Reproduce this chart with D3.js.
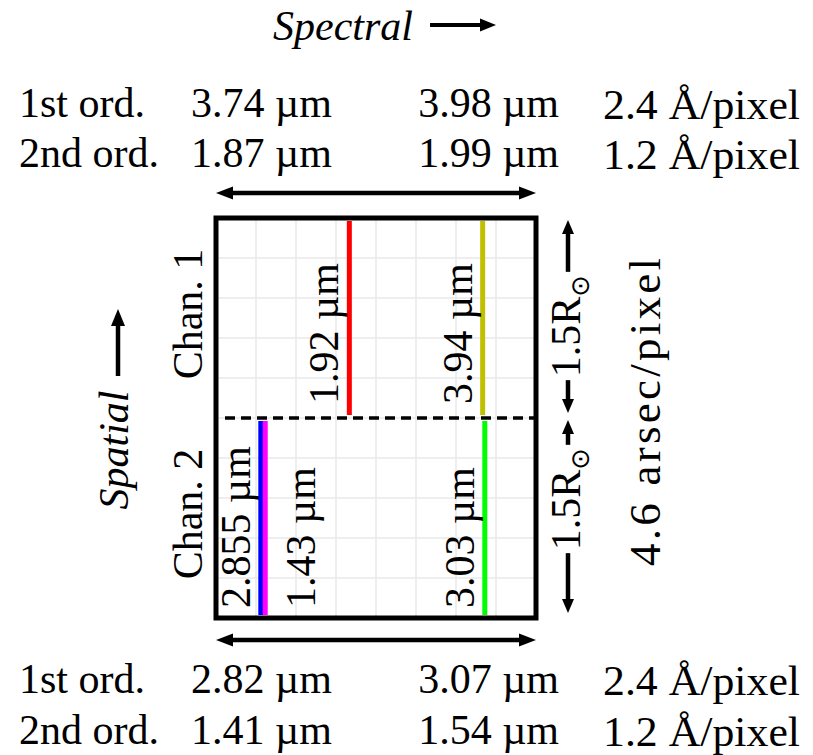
<!DOCTYPE html>
<html>
<head>
<meta charset="utf-8">
<script src="https://cdn.jsdelivr.net/npm/d3@7"></script>
<style>
  body { margin: 0; background: #fff; }
  svg { display: block; }
  text { font-family: "Liberation Serif", serif; fill: #000; }
</style>
</head>
<body>
<svg id="viz" width="813" height="755"></svg>
<script>
// spectral coverage of each channel, per grating order (µm)
const orders = ["1st ord.", "2nd ord."];
const chan1Range = [[3.74, 3.98], [1.87, 1.99]];
const chan2Range = [[2.82, 3.07], [1.41, 1.54]];
const dispersion = ["2.4 Å/pixel", "1.2 Å/pixel"];

// spatial extent along the slit (solar radii)
const chanNames = ["Chan. 1", "Chan. 2"];
const chanSpan = [[1.5, 3], [0, 1.5]];
const chanSize = ["1.5", "1.5"];
const plateScale = "4.6 arsec/pixel";

// emission lines
const lineWave = [1.92, 3.94, 2.855, 1.43, 3.03];
const lineOrder = [2, 1, 1, 2, 1];
const lineChan = [1, 1, 2, 2, 2];
const lineSide = ["left", "left", "left", "right", "left"];
const lineColor = ["#ff0000", "#c0c000", "#0000ff", "#ff00ff", "#00ff00"];

const svg = d3.select("#viz");
const x0 = 216, x1 = 536, y0 = 218, y1 = 618;
const fs = 42;

const yScale = d3.scaleLinear().domain([0, 3]).range([y1, y0]);
const xScales = {
  1: chan1Range.map(r => d3.scaleLinear().domain(r).range([x0, x1])),
  2: chan2Range.map(r => d3.scaleLinear().domain(r).range([x0, x1]))
};

function head(g, x, y, ux, uy, hl, hw) {
  const bx = x - ux * hl, by = y - uy * hl, px = -uy, py = ux;
  g.append("path")
    .attr("d", `M${x},${y}L${bx + px * hw / 2},${by + py * hw / 2}L${bx - px * hw / 2},${by - py * hw / 2}Z`)
    .attr("fill", "#000");
}
function arrow(xa, ya, xb, yb, both, w, hl, hw) {
  const g = svg.append("g");
  const dx = xb - xa, dy = yb - ya, L = Math.hypot(dx, dy), ux = dx / L, uy = dy / L;
  const s = both ? hl * 0.7 : 0;
  g.append("line")
    .attr("x1", xa + ux * s).attr("y1", ya + uy * s)
    .attr("x2", xb - ux * hl * 0.7).attr("y2", yb - uy * hl * 0.7)
    .attr("stroke", "#000").attr("stroke-width", w);
  head(g, xb, yb, ux, uy, hl, hw);
  if (both) head(g, xa, ya, -ux, -uy, hl, hw);
}

// title
svg.append("text").attr("x", 273).attr("y", 40)
  .attr("font-size", fs).attr("font-style", "italic").text("Spectral");
arrow(430, 25, 496, 25, false, 4, 16, 13);

// wavelength rows, channel 1 on top, channel 2 below
const topBase = [117, 167], botBase = [693, 744];
function rows(ranges, bases) {
  orders.forEach((o, i) => {
    svg.append("text").attr("x", 19).attr("y", bases[i]).attr("font-size", fs).text(o);
    svg.append("text").attr("x", x0 - 25).attr("y", bases[i]).attr("font-size", fs)
      .text(ranges[i][0] + " µm");
    svg.append("text").attr("x", x1 + 23).attr("y", bases[i]).attr("font-size", fs)
      .attr("text-anchor", "end").text(ranges[i][1] + " µm");
    svg.append("text").attr("x", 603).attr("y", bases[i] + 2).attr("font-size", fs)
      .attr("textLength", 197).attr("lengthAdjust", "spacingAndGlyphs")
      .text(dispersion[i]);
  });
}
rows(chan1Range, topBase);
rows(chan2Range, botBase);

arrow(x0, 193, x1, 193, true, 4.5, 17, 13);
arrow(x0, 640, x1, 640, true, 4.5, 17, 13);

// grid
const gx = d3.range(9).map(i => chan1Range[0][0] + i * 0.03);
const gy = d3.range(11).map(i => i * 0.3);
svg.append("g").selectAll("line").data(gx).join("line")
  .attr("x1", d => xScales[1][0](d)).attr("x2", d => xScales[1][0](d))
  .attr("y1", y0).attr("y2", y1)
  .attr("stroke", "#e8e8e8").attr("stroke-width", 1.5);
svg.append("g").selectAll("line").data(gy).join("line")
  .attr("y1", d => yScale(d)).attr("y2", d => yScale(d))
  .attr("x1", x0).attr("x2", x1)
  .attr("stroke", "#e8e8e8").attr("stroke-width", 1.5);

// emission lines and labels
const lines = lineWave.map((w, i) => ({
  w, ord: lineOrder[i], ch: lineChan[i], side: lineSide[i], color: lineColor[i]
}));
lines.forEach(d => {
  const x = xScales[d.ch][d.ord - 1](d.w);
  const span = chanSpan[d.ch - 1];
  svg.append("line")
    .attr("x1", x).attr("x2", x)
    .attr("y1", yScale(span[1]) + 3).attr("y2", yScale(span[0]) - 3)
    .attr("stroke", d.color).attr("stroke-width", 5);
  const bx = d.side === "left" ? x - 11 : x + 50;
  const by = yScale(span[0]) - (d.ch === 1 ? 14 : 10);
  svg.append("text")
    .attr("transform", `translate(${bx},${by}) rotate(-90)`)
    .attr("font-size", fs).text(d.w + " µm");
});

// channel split
svg.append("line")
  .attr("x1", x0 + 9).attr("x2", x1)
  .attr("y1", yScale(1.5)).attr("y2", yScale(1.5))
  .attr("stroke", "#000").attr("stroke-width", 3.5).attr("stroke-dasharray", "10,6");

// box
svg.append("rect").attr("x", x0).attr("y", y0)
  .attr("width", x1 - x0).attr("height", y1 - y0)
  .attr("fill", "none").attr("stroke", "#000").attr("stroke-width", 5);

// left side
chanNames.forEach((c, i) => {
  const mid = yScale(d3.mean(chanSpan[i]));
  svg.append("text")
    .attr("transform", `translate(202,${mid - 4}) rotate(-90)`)
    .attr("text-anchor", "middle").attr("font-size", fs).text(c);
});
svg.append("text")
  .attr("transform", "translate(128,450) rotate(-90)")
  .attr("text-anchor", "middle").attr("font-size", fs).attr("font-style", "italic").text("Spatial");
arrow(118, 376, 118, 309, false, 4.5, 17, 14);

// right side
const rShift = [8, -19];
chanSpan.forEach((s, i) => {
  const c = yScale(d3.mean(s)) + rShift[i];
  const t = svg.append("text")
    .attr("transform", `translate(580,${c}) rotate(-90)`)
    .attr("text-anchor", "middle").attr("font-size", fs);
  t.append("tspan").text(chanSize[i] + "R");
  t.append("tspan").attr("font-family", "DejaVu Sans").attr("font-size", 26).attr("dy", 9).text("⊙");
  const half = t.node().getComputedTextLength() / 2;
  arrow(568, c - half - 3, 568, yScale(s[1]) + 2, false, 4.5, 14, 12);
  arrow(568, c + half + 3, 568, yScale(s[0]) - 5, false, 4.5, 14, 12);
});
svg.append("text")
  .attr("transform", `translate(660,${yScale(1.5) - 6}) rotate(-90)`)
  .attr("text-anchor", "middle").attr("font-size", 45)
  .attr("textLength", 308).attr("lengthAdjust", "spacing").text(plateScale);
</script>
</body>
</html>
